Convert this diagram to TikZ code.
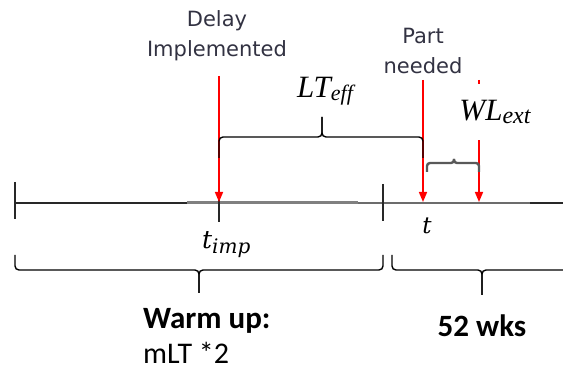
\documentclass[tikz,border=0pt]{standalone}
\usepackage{fontspec}
\setmainfont{Liberation Serif}
\newfontfamily\lblfont{DejaVu Sans}
\newfontfamily\calfont{Carlito}
\newfontfamily\tnrfont{Liberation Serif}
\newfontfamily\mathlike{DejaVu Serif}
\usetikzlibrary{arrows.meta}
\definecolor{lbl}{RGB}{50,50,66}
\definecolor{tl}{RGB}{40,40,40}
\begin{document}
\begin{tikzpicture}[x=1pt,y=-1pt,
  lbltext/.style={font=\lblfont\fontsize{21}{21}\selectfont, text=lbl, inner sep=0pt, anchor=base},
  boldtext/.style={font=\calfont\bfseries\fontsize{31}{31}\selectfont, text=black, inner sep=0pt, anchor=base},
  regtext/.style={font=\calfont\fontsize{30}{30}\selectfont, text=black, inner sep=0pt, anchor=base west},
  sertext/.style={font=\tnrfont\itshape\fontsize{31}{31}\selectfont, text=black, inner sep=0pt, anchor=base},
  mtext/.style={font=\mathlike\itshape, text=black, inner sep=0pt},
  redarrow/.style={draw=red, line width=1.5pt, -{Triangle[length=10pt,width=8pt]}},
  bracepath/.style={draw=black, line width=1.4pt, rounded corners=4pt},
  tickline/.style={draw=tl, line width=1.5pt}]
\useasboundingbox (0,0) rectangle (563,371);

% timeline
\coordinate (tlA) at (15,203);
\coordinate (tlB) at (563,203);
\draw[draw=tl, line width=1.5pt] (tlA) -- (tlB);
\coordinate (g1) at (187,203);
\coordinate (g2) at (358,203);
\coordinate (g3) at (530,203);
\draw[draw=gray, line width=3pt] (g1) -- (g2);
\draw[draw=gray!85!black, line width=2.4pt] (g2) -- (g3);

% ticks
\coordinate (k1a) at (15,182); \coordinate (k1b) at (15,219);
\draw[tickline] (k1a) -- (k1b);
\coordinate (k2a) at (383,184); \coordinate (k2b) at (383,221);
\draw[tickline] (k2a) -- (k2b);
\coordinate (k3a) at (219,200); \coordinate (k3b) at (219,222);
\draw[tickline] (k3a) -- (k3b);

% labels
\node[lbltext] (dl1) at (217,27) {Delay};
\node[lbltext] (dl2) at (217,57) {Implemented};
\node[lbltext] (pn1) at (423,44) {Part};
\node[lbltext] (pn2) at (423,74) {needed};

% red arrows
\coordinate (a1s) at (219,76);  \coordinate (a1e) at (219,202);
\coordinate (a2s) at (423,80);  \coordinate (a2e) at (423,202);
\coordinate (a3s) at (479,80);  \coordinate (a3e) at (479,202);
\draw[redarrow] (a1s) -- (a1e);
\draw[redarrow] (a2s) -- (a2e);
\draw[redarrow] (a3s) -- (a3e);

% LT_eff brace
\draw[bracepath] (219,158) -- (219,137) -- (322,137) -- (322,117);
\draw[bracepath] (322,117) -- (322,137) -- (423,137) -- (423,158);
\node[sertext] (lt) at (325,98) {LT\raisebox{-3pt}{\fontsize{22}{22}\selectfont eff}};

% WL_ext brace
\draw[draw=gray!70!black, line width=2.4pt, rounded corners=3pt] (427,172) -- (427,163) -- (454,163) -- (454,159);
\draw[draw=gray!70!black, line width=2.4pt, rounded corners=3pt] (454,159) -- (454,163) -- (479,163) -- (479,172);
\node[sertext, fill=white, inner xsep=2pt, inner ysep=0pt, minimum height=56pt, anchor=center] (wl) at (495,112) {WL\raisebox{-3pt}{\fontsize{24}{24}\selectfont ext}};

% time labels
\node[mtext, anchor=base west] (timp) at (202,249) {\fontsize{25}{25}\selectfont t\raisebox{-5pt}{\fontsize{20}{20}\selectfont imp}};
\node[mtext, anchor=base] (tt) at (427,234) {\fontsize{23}{23}\selectfont t};

% bottom braces
\draw[bracepath] (15,255) -- (15,270) -- (199,270) -- (199,293);
\draw[bracepath] (199,293) -- (199,270) -- (383,270) -- (383,255);
\draw[bracepath] (392,255) -- (392,270) -- (482,270) -- (482,295);
\draw[bracepath] (482,295) -- (482,270) -- (570,270);

% bottom labels
\node[boldtext, anchor=base west] (wu) at (143,329) {Warm up:};
\node[regtext] (ml) at (143,364) {mLT *2};
\node[boldtext] (wk) at (482,337) {52 wks};
\end{tikzpicture}
\end{document}
